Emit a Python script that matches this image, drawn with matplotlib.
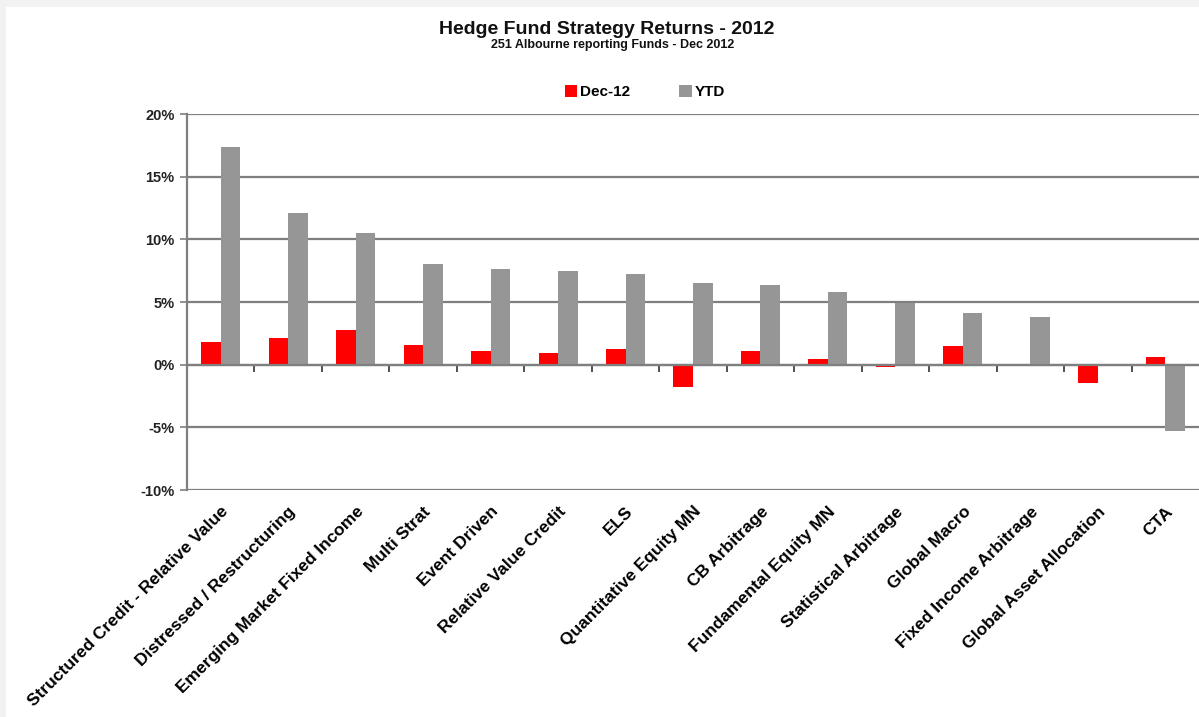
import numpy as np
import matplotlib.pyplot as plt
from matplotlib.patches import Rectangle
from matplotlib.ticker import FuncFormatter

plt.rcParams['font.family'] = ['Liberation Sans', 'DejaVu Sans']

strategies = ["Structured Credit - Relative Value", "Distressed / Restructuring",
              "Emerging Market Fixed Income", "Multi Strat", "Event Driven",
              "Relative Value Credit", "ELS", "Quantitative Equity MN",
              "CB Arbitrage", "Fundamental Equity MN", "Statistical Arbitrage",
              "Global Macro", "Fixed Income Arbitrage", "Global Asset Allocation", "CTA"]
dec12 = [1.8, 2.1, 2.8, 1.6, 1.1, 0.95, 1.25, -1.75, 1.1, 0.45, -0.15, 1.5, 0.0, -1.5, 0.6]
ytd = [17.4, 12.1, 10.5, 8.0, 7.65, 7.5, 7.2, 6.5, 6.35, 5.8, 4.9, 4.1, 3.8, -0.1, -5.3]
yticks = [-10, -5, 0, 5, 10, 15, 20]

red = '#ff0000'
grey = '#969696'
line = '#7f7f7f'

fig = plt.figure(figsize=(11.99, 7.17), dpi=100, facecolor='#f2f2f2')
fig.patches.append(Rectangle((6 / 1199, 0), 1, 1 - 7 / 717, transform=fig.transFigure,
                             facecolor='white', edgecolor='none', zorder=-10))

ax = fig.add_axes([187 / 1199, 1 - 490 / 717, 1 - 187 / 1199, (490 - 114) / 717])
ax.set_facecolor('none')
ax.set_zorder(2)

x = np.arange(len(strategies))
w = 0.29
ax.bar(x - w / 2, dec12, w, color=red, label='Dec-12', zorder=3)
ax.bar(x + w / 2, ytd, w, color=grey, label='YTD', zorder=3)

ax.set_xlim(-0.5, len(strategies) - 0.5)
ax.set_ylim(-10, 20)
ax.set_yticks(yticks)
ax.yaxis.set_major_formatter(FuncFormatter(lambda v, p: f"{v:.0f}%"))
for t in ax.get_yticklabels():
    t.set_fontweight('bold')
    t.set_fontsize(10.5)
    t.set_color('#222222')
ax.tick_params(axis='y', direction='out', length=5, width=1.2, color=line, pad=4)
ax.grid(axis='y', color=line, linewidth=1.6, zorder=1)

for s in ['top', 'right']:
    ax.spines[s].set_visible(False)
ax.spines['left'].set_color(line)
ax.spines['left'].set_linewidth(1.6)
ax.spines['bottom'].set_position(('data', 0))
ax.spines['bottom'].set_color(line)
ax.spines['bottom'].set_linewidth(1.6)
ax.spines['bottom'].set_zorder(4)
ax.set_xticks(x[:-1] + 0.5)
ax.set_xticklabels([])
ax.tick_params(axis='x', direction='out', length=5, width=1.2, color='#333333')

sec = ax.secondary_xaxis(0)
sec.set_xticks(x)
sec.set_xticklabels(strategies, rotation=45, ha='right', va='top',
                    rotation_mode='anchor', fontweight='bold', fontsize=12.5)
sec.tick_params(length=0, pad=10)
sec.spines['bottom'].set_visible(False)

fig.text(0.506, 1 - 30 / 717, "Hedge Fund Strategy Returns - 2012", ha='center', va='center',
         fontsize=14, fontweight='bold', color='#111111')
fig.text(0.511, 1 - 45 / 717, "251 Albourne reporting Funds - Dec 2012", ha='center', va='center',
         fontsize=9, fontweight='bold', color='#111111')

fig.legend(loc='center', bbox_to_anchor=(0.538, 1 - 92 / 717), ncol=2, frameon=False,
           prop={'weight': 'bold', 'size': 11}, handlelength=0.8, handleheight=0.8,
           handletextpad=0.2, columnspacing=3.2)

fig.savefig('out.png', dpi=100, facecolor=fig.get_facecolor())
